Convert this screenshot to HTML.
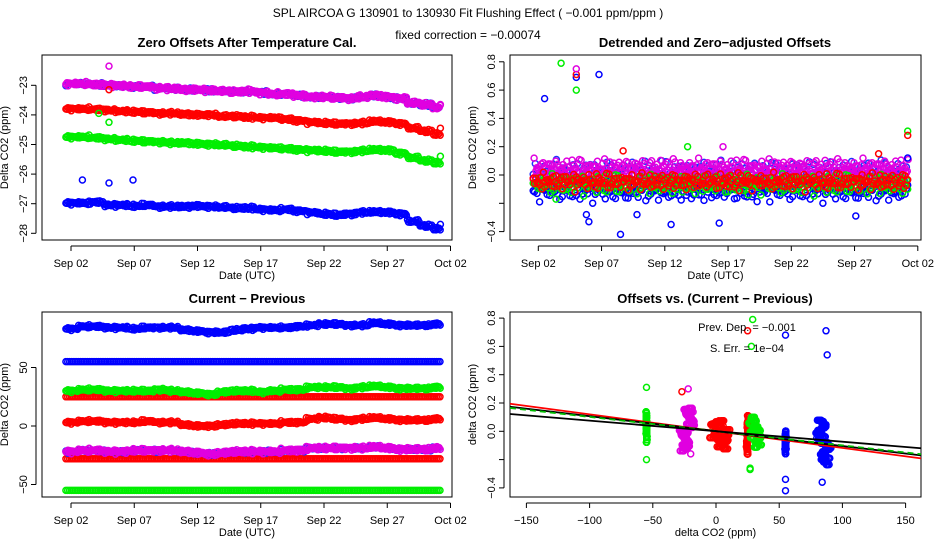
<!DOCTYPE html>
<html><head><meta charset="utf-8">
<style>
html,body{margin:0;padding:0;background:#fff;}
svg{display:block;font-family:"Liberation Sans",sans-serif;}
.t{font-size:13px;font-weight:bold;}
.tk{font-size:11px;}
</style></head>
<body>
<svg id="chart" width="936" height="540" viewBox="0 0 936 540" xmlns="http://www.w3.org/2000/svg">
<text x="468" y="17" text-anchor="middle" font-size="12">SPL   AIRCOA G   130901 to 130930   Fit Flushing Effect ( −0.001 ppm/ppm )</text>
<text x="468" y="39" text-anchor="middle" font-size="12">fixed correction = −0.00074</text>
<text class="t" x="247" y="47" text-anchor="middle">Zero Offsets After Temperature Cal.</text>
<text class="t" x="715" y="47" text-anchor="middle">Detrended and Zero−adjusted Offsets</text>
<text class="t" x="247" y="303" text-anchor="middle">Current − Previous</text>
<text class="t" x="715" y="303" text-anchor="middle">Offsets vs. (Current − Previous)</text>
<g id="layer"></g>
</svg>
<script>
// ---- data ----
const p1Purple=[-22.95,-22.95,-22.98,-23.0,-23.02,-23.05,-23.05,-23.1,-23.12,-23.15,-23.15,-23.18,-23.2,-23.22,-23.2,-23.25,-23.3,-23.3,-23.35,-23.4,-23.4,-23.42,-23.45,-23.4,-23.35,-23.4,-23.45,-23.6,-23.65,-23.75,-23.9];
const p1Red=[-23.8,-23.8,-23.82,-23.85,-23.88,-23.9,-23.92,-23.95,-23.95,-23.98,-24.0,-24.0,-24.05,-24.05,-24.08,-24.1,-24.1,-24.15,-24.2,-24.25,-24.28,-24.3,-24.3,-24.28,-24.22,-24.25,-24.3,-24.45,-24.55,-24.65,-24.75];
const p1Green=[-24.75,-24.75,-24.78,-24.82,-24.85,-24.88,-24.9,-24.92,-24.95,-24.95,-24.98,-25.0,-25.02,-25.05,-25.08,-25.1,-25.12,-25.15,-25.18,-25.2,-25.22,-25.25,-25.25,-25.22,-25.18,-25.2,-25.3,-25.45,-25.55,-25.62,-25.68];
const p1Blue=[-26.98,-26.98,-26.95,-27.05,-27.05,-27.08,-27.05,-27.1,-27.1,-27.1,-27.08,-27.1,-27.12,-27.15,-27.15,-27.2,-27.22,-27.2,-27.25,-27.3,-27.35,-27.38,-27.35,-27.3,-27.28,-27.3,-27.35,-27.6,-27.75,-27.85,-27.92];
const p1OutDay=[5,5,4.2,5,2.9,5,6.9,31.2,31.2,31.2,31.2];
const p1OutVal=[-22.35,-23.15,-23.95,-24.25,-26.2,-26.3,-26.2,-24.45,-25.4,-23.65,-27.7];
const p1OutCol=["#e000e0","red","#00ee00","#00ee00","blue","blue","blue","red","#00ee00","#e000e0","blue"];
const p2Mean=[-0.11,-0.07,-0.05,0.03];
const p2OutDay=[2.5,5,6.8,8.5,3.8,5,5,5,31.2,31.2,31.2,8.7,13.8,16.6,28.9,5.8,6,12.5,16.3,27.1,9.8,3.4];
const p2OutVal=[0.54,0.69,0.71,-0.42,0.79,0.6,0.71,0.75,0.31,0.28,0.12,0.17,0.2,0.2,0.15,-0.28,-0.33,-0.35,-0.34,-0.29,-0.28,-0.17];
const p2OutCol=["blue","blue","blue","blue","#00ee00","#00ee00","red","#e000e0","#00ee00","red","blue","red","#00ee00","#e000e0","red","blue","blue","blue","blue","blue","blue","#00ee00"];
const p3BlueTop=[83,85,85,84,84,83,84,84,84,82,81,80,80,82,83,84,84,84,85,86,87,87,86,86,88,87,86,86,86,87,87];
const p3Green=[30,31,31,30,30,30,30,31,30,29,28,27,29,30,30,29,30,31,31,33,33,33,32,33,34,33,32,32,32,33,33];
const p3RedMid=[3,4,4,3,3,3,4,3,3,1,0,0,1,2,2,2,2,3,3,6,7,6,5,6,7,6,5,5,5,6,6];
const p3Purple=[-22,-21,-21,-22,-22,-21,-21,-21,-21,-22,-23,-24,-23,-22,-22,-22,-22,-21,-21,-19,-19,-19,-19,-19,-18,-19,-20,-20,-20,-19,-19];
const p3ConstVal=[55,25,-28,-55];
const p3ConstCol=["blue","red","red","#00ee00"];
const p4ClusterX=[-55,-23,3,25,31,55,85];
const p4ClusterW=[1,12,16,2,10,1,12];
const p4ClusterY=[0.02,0.03,-0.02,-0.03,-0.03,-0.07,-0.1];
const p4ClusterS=[0.17,0.17,0.15,0.15,0.16,0.14,0.18];
const p4ClusterCol=["#00ee00","#e000e0","red","red","#00ee00","blue","blue"];
const p4OutX=[-55,-27,-22,-20,25,29,28,55,87,88,55,55,84,27,-55,27];
const p4OutY=[0.31,0.28,0.3,-0.16,0.71,0.79,0.6,0.68,0.71,0.54,-0.34,-0.42,-0.36,-0.26,-0.2,-0.27];
const p4OutCol=["#00ee00","red","#e000e0","#e000e0","red","#00ee00","#00ee00","blue","blue","blue","blue","blue","blue","#00ee00","#00ee00","#00ee00"];
const p4Slopes=[-0.00118,-0.00105,-0.001,-0.00074];
const p4SlopeCol=["red","black","#00bb00","black"];
const dateTicks=[2,7,12,17,22,27,32];
const dateLabels=["Sep 02","Sep 07","Sep 12","Sep 17","Sep 22","Sep 27","Oct 02"];
const jit=[0.3,-0.5,0.8,-0.2,0.6,-0.9,0.1,-0.4,0.9,-0.7,0.4,-0.1,0.55,-0.3];

const NS="http://www.w3.org/2000/svg";
const layer=document.getElementById('layer');
function mk(tag,attrs){const e=document.createElementNS(NS,tag);for(const k in attrs)e.setAttribute(k,attrs[k]);layer.appendChild(e);return e;}
function pt(x,y,c,name){const e=mk('circle',{cx:x.toFixed(1),cy:y.toFixed(1),r:3,fill:'none',stroke:c,'stroke-width':1.5});


return e;}
function jv(n){return jit[n%14]*0.6+jit[(n*3+7)%13]*0.5;}

const P1={x0:42,x1:452,y0:55,y1:240}, P2={x0:510,x1:921,y0:55,y1:240};
const P3={x0:42,x1:452,y0:312,y1:497}, P4={x0:510,x1:921,y0:312,y1:497};
const dx1=d=>71+(d-2)*12.65, dx2=d=>538.3+(d-2)*12.65;
const y1=v=>85.3+(-23-v)*29.6, y2=v=>175-v*141.5, y3=v=>426-v*1.17;
const x4=v=>716+v*1.264, y4=v=>431.3-v*141.5;

function frame(P,name){const r=mk('rect',{x:P.x0,y:P.y0,width:P.x1-P.x0,height:P.y1-P.y0,fill:'none',stroke:'#000','stroke-width':1});

}
function xaxis(P,ticks,labels,fx,title){
 const yb=P.y1+6;
 mk('line',{x1:fx(ticks[0]),x2:fx(ticks[ticks.length-1]),y1:yb,y2:yb,stroke:'#000'});
 ticks.forEach((t,i)=>{const x=fx(t);mk('line',{x1:x,x2:x,y1:yb,y2:yb+5,stroke:'#000'});
  const tx=mk('text',{x:x,y:yb+21,'text-anchor':'middle',class:'tk'});tx.textContent=labels[i];
  
  });
 const tt=mk('text',{x:(P.x0+P.x1)/2,y:P.y1+39,'text-anchor':'middle',class:'tk'});tt.textContent=title;
 
 
}
function yaxis(P,ticks,labels,fy,title){
 const xb=P.x0-6;
 mk('line',{x1:xb,x2:xb,y1:fy(ticks[0]),y2:fy(ticks[ticks.length-1]),stroke:'#000'});
 ticks.forEach((t,i)=>{const y=fy(t);mk('line',{x1:xb-5,x2:xb,y1:y,y2:y,stroke:'#000'});
  if(labels[i]!==''){const tx=mk('text',{x:0,y:0,'text-anchor':'middle',class:'tk',transform:`translate(${xb-9},${y}) rotate(-90)`});tx.textContent=labels[i];
  
  }});
 const tt=mk('text',{x:0,y:0,'text-anchor':'middle',class:'tk',transform:`translate(${P.x0-34},${(P.y0+P.y1)/2}) rotate(-90)`});tt.textContent=title;
 
 
}
function series(arr,fx,fy,col,spread,nsub,name,seed){
 seed=seed||0;
 arr.forEach((v,i)=>{for(let k=0;k<nsub;k++){const d=i+0.6+k/nsub+1;if(d>31.25)continue;
  const j=jv(i*nsub+k+seed);pt(fx(d),fy(v+j*spread),col,name);}});
}
// panel 1
frame(P1,'panel1-frame');
xaxis(P1,dateTicks,dateLabels,dx1,'Date (UTC)');
yaxis(P1,[-23,-24,-25,-26,-27,-28],['−23','−24','−25','−26','−27','−28'],y1,'Delta CO2 (ppm)');
series(p1Blue,dx1,y1,'blue',0.07,12,'zero-offset-blue');
series(p1Green,dx1,y1,'#00ee00',0.07,12,'zero-offset-green');
series(p1Red,dx1,y1,'red',0.07,12,'zero-offset-red');
series(p1Purple,dx1,y1,'#2030ff',0.07,6,'zero-offset-purple',5);
series(p1Purple,dx1,y1,'#e000e0',0.08,12,'zero-offset-purple',3);
p1OutDay.forEach((d,i)=>pt(dx1(d),y1(p1OutVal[i]),p1OutCol[i],'zero-offset-outlier'));
// panel 2
frame(P2,'panel2-frame');
xaxis(P2,dateTicks,dateLabels,dx2,'Date (UTC)');
yaxis(P2,[0.8,0.6,0.4,0.2,0,-0.2,-0.4],['0.8','0.6','0.4','0.2','0.0','','−0.4'],y2,'Delta CO2 (ppm)');
const cols2=['blue','#00ee00','red','#e000e0'];const spr2=[0.09,0.08,0.07,0.09];
const flat=new Array(31).fill(0);
series(flat.map(z=>z+p2Mean[3]),dx2,y2,'#2030ff',0.08,6,'detrended-point',11);
[3,0,1,2].forEach(s=>{series(flat.map(z=>z+p2Mean[s]),dx2,y2,cols2[s],spr2[s],s===3?14:10,'detrended-point',s*7);});
p2OutDay.forEach((d,i)=>pt(dx2(d),y2(p2OutVal[i]),p2OutCol[i],'detrended-outlier'));
// panel 3
frame(P3,'panel3-frame');
xaxis(P3,dateTicks,dateLabels,dx1,'Date (UTC)');
yaxis(P3,[50,0,-50],['50','0','−50'],y3,'Delta CO2 (ppm)');
p3ConstVal.forEach((v,s)=>series(new Array(31).fill(v),dx1,y3,p3ConstCol[s],0,7,'constant-reference'));
series(p3BlueTop,dx1,y3,'blue',1.5,12,'current-previous-blue');
series(p3Green,dx1,y3,'#00ee00',1.5,12,'current-previous-green');
series(p3RedMid,dx1,y3,'red',1.5,12,'current-previous-red');
series(p3Purple,dx1,y3,'#2030ff',1.5,6,'current-previous-purple',4);
series(p3Purple,dx1,y3,'#e000e0',2,12,'current-previous-purple');
// panel 4
frame(P4,'panel4-frame');
xaxis(P4,[-150,-100,-50,0,50,100,150],['−150','−100','−50','0','50','100','150'],x4,'delta CO2 (ppm)');
yaxis(P4,[0.8,0.6,0.4,0.2,0,-0.2,-0.4],['0.8','0.6','0.4','0.2','0.0','','−0.4'],y4,'delta CO2 (ppm)');
p4ClusterX.forEach((cx,c)=>{const n=130;for(let k=0;k<n;k++){const jx=jv(k*5+c),jy=jv(k*7+3+c*2);
 pt(x4(cx+jx*p4ClusterW[c]/2),y4(p4ClusterY[c]+jy*p4ClusterS[c]),p4ClusterCol[c],'scatter-cluster-point');}});
p4OutX.forEach((x,i)=>pt(x4(x),y4(p4OutY[i]),p4OutCol[i],'scatter-outlier'));
p4Slopes.forEach((s,i)=>{const l=mk('line',{x1:P4.x0,x2:P4.x1,y1:y4(s*-165),y2:y4(s*162),stroke:p4SlopeCol[i],'stroke-width':1.8,'stroke-dasharray':p4SlopeCol[i]==='#00bb00'?'6,4':'none'});
 
 });
const a=mk('text',{x:747,y:331,'text-anchor':'middle',class:'tk','font-size':'12'});a.textContent='Prev. Dep. =  −0.001';


const b=mk('text',{x:747,y:352,'text-anchor':'middle',class:'tk','font-size':'12'});b.textContent='S. Err. =  1e−04';


</script>
</body></html>
